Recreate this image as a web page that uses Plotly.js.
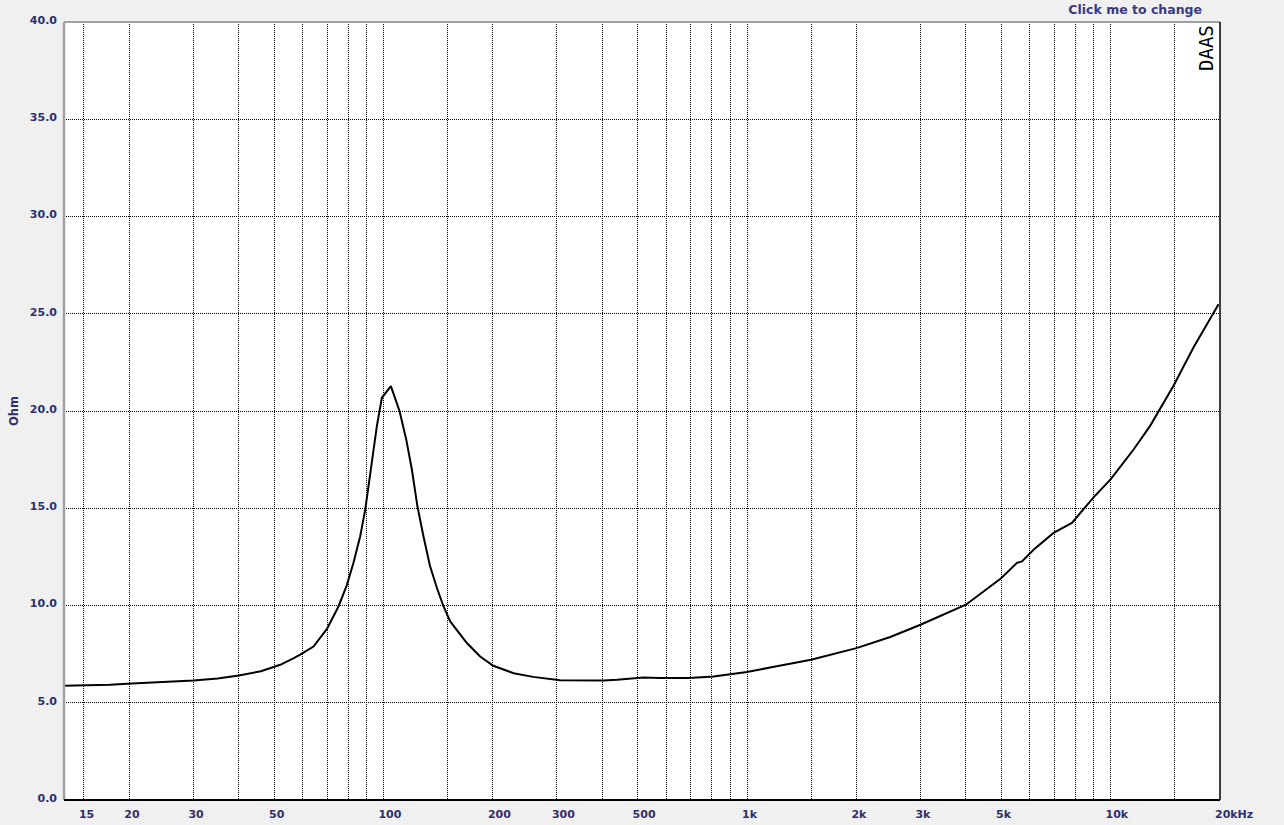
<!DOCTYPE html>
<html>
<head>
<meta charset="utf-8">
<script src="https://cdn.plot.ly/plotly-3.0.1.min.js"></script>
<style>
  html, body { margin: 0; padding: 0; background: #f0f0f0; }
  #chart { width: 1284px; height: 825px; }
</style>
</head>
<body>
<div id="chart"></div>
<script>
// Impedance curve (frequency in Hz, impedance in Ohm)
const freqHz = [
  13.22, 17.7, 20.3, 23.5, 30, 35, 40, 46, 50, 52, 56.5, 59, 64.2, 69.9, 75.2, 79.3,
  82.7, 86.3, 89.1, 90.9, 92.9, 95.9, 99, 104.8, 110.7, 115.5, 119.7, 124, 128.8, 134.4,
  140.3, 146.3, 152.6, 169.6, 184.5, 200.5, 228, 258, 306, 403, 439,
  519, 577, 655, 690, 809, 1000, 1158, 1500, 2000, 2477, 3000, 3548, 4000, 5000, 5528, 5706,
  6140, 6970, 7425, 7830, 8979, 10000, 11570, 12860, 14900, 16920, 19820
];
const impedanceOhm = [
  5.87, 5.92, 5.99, 6.04, 6.14, 6.25, 6.40, 6.62, 6.85, 6.95, 7.28, 7.47, 7.89, 8.80, 9.95, 11.05,
  12.20, 13.56, 14.93, 16.13, 17.51, 19.22, 20.68, 21.28, 20.00, 18.54, 16.99, 15.10, 13.56, 12.00,
  10.90, 9.95, 9.18, 8.07, 7.38, 6.90, 6.52, 6.33, 6.16, 6.14, 6.18,
  6.30, 6.27, 6.27, 6.27, 6.35, 6.58, 6.81, 7.21, 7.81, 8.38, 9.01, 9.61, 10.04, 11.40, 12.19, 12.27,
  12.87, 13.73, 13.99, 14.25, 15.56, 16.48, 18.02, 19.25, 21.30, 23.28, 25.49
];

// Frequency grid lines and their labels
const gridFreqs = [15, 20, 30, 40, 50, 60, 70, 80, 90, 100, 150, 200, 300, 400, 500, 600, 700, 800, 900,
  1000, 1500, 2000, 3000, 4000, 5000, 6000, 7000, 8000, 9000, 10000, 15000, 20000];
const gridLabels = ['15', '20', '30', '', '50', '', '', '', '', '100', '', '200', '300', '', '500', '', '', '', '',
  '1k', '', '2k', '3k', '', '5k', '', '', '', '', '10k', '', '20kHz'];

const yMin = 0, yMax = 40, yStep = 5;
const freqMin = 13.22, freqMax = 20000;

const navy = '#2f2f6b';
const tickFont = { family: 'DejaVu Sans, Verdana, sans-serif', size: 11, color: navy, weight: 'bold' };

const trace = {
  x: freqHz,
  y: impedanceOhm,
  type: 'scatter',
  mode: 'lines',
  line: { color: '#000000', width: 2 },
  hoverinfo: 'x+y'
};

const layout = {
  width: 1284,
  height: 825,
  margin: { l: 64, r: 64, t: 22, b: 25, pad: 0 },
  paper_bgcolor: '#f0f0f0',
  plot_bgcolor: '#ffffff',
  showlegend: false,
  title: {
    text: '<b>Click me to change</b>',
    font: { family: 'DejaVu Sans, Verdana, sans-serif', size: 12.5, color: '#3a3a80' },
    xref: 'container', yref: 'container',
    x: 1202 / 1284, xanchor: 'right',
    y: 1 - 10 / 825, yanchor: 'middle'
  },
  xaxis: {
    type: 'log',
    range: [Math.log10(freqMin), Math.log10(freqMax)],
    tickmode: 'array',
    tickvals: gridFreqs,
    ticktext: gridLabels,
    ticks: '',
    tickfont: tickFont,
    ticklabelposition: 'outside right',
    ticklabelshift: -5,
    ticklabelstandoff: 6,
    ticklabeloverflow: 'allow',
    showgrid: true,
    gridcolor: '#000000',
    gridwidth: 1,
    griddash: '1px,1px',
    zeroline: false,
    showline: false,
    fixedrange: true,
    automargin: false
  },
  yaxis: {
    range: [yMin, yMax],
    tickmode: 'linear',
    tick0: yMin,
    dtick: yStep,
    tickformat: '.1f',
    ticks: '',
    tickfont: tickFont,
    ticklabelstandoff: 6,
    ticklabelshift: -2,
    showgrid: true,
    gridcolor: '#000000',
    gridwidth: 1,
    griddash: '1px,1px',
    zeroline: false,
    showline: false,
    fixedrange: true,
    automargin: false,
    title: {
      text: '<b>Ohm</b>',
      font: { family: 'DejaVu Sans, Verdana, sans-serif', size: 11.5, color: navy },
      standoff: 8
    }
  },
  shapes: [
    // frame: gray on top and left, black on bottom and right
    { type: 'line', xref: 'paper', yref: 'paper', x0: 0, x1: 1, y0: 1, y1: 1, line: { color: '#a0a0a0', width: 2 } },
    { type: 'line', xref: 'paper', yref: 'paper', x0: 0, x1: 0, y0: 0, y1: 1, line: { color: '#a0a0a0', width: 2.5 } },
    { type: 'line', xref: 'paper', yref: 'paper', x0: 0, x1: 1, y0: 0, y1: 0, line: { color: '#000000', width: 2 } },
    { type: 'line', xref: 'paper', yref: 'paper', x0: 1, x1: 1, y0: 0, y1: 1, line: { color: '#000000', width: 1.5 } }
  ],
  annotations: [
    {
      text: 'DAAS',
      xref: 'paper', yref: 'paper',
      x: 1, y: 1,
      xanchor: 'right', yanchor: 'top',
      xshift: -1, yshift: -1,
      textangle: -90,
      showarrow: false,
      font: { family: 'DejaVu Sans Mono, monospace', size: 19, color: '#000000' }
    }
  ]
};

Plotly.newPlot('chart', [trace], layout, { staticPlot: true, displayModeBar: false });
</script>
</body>
</html>
